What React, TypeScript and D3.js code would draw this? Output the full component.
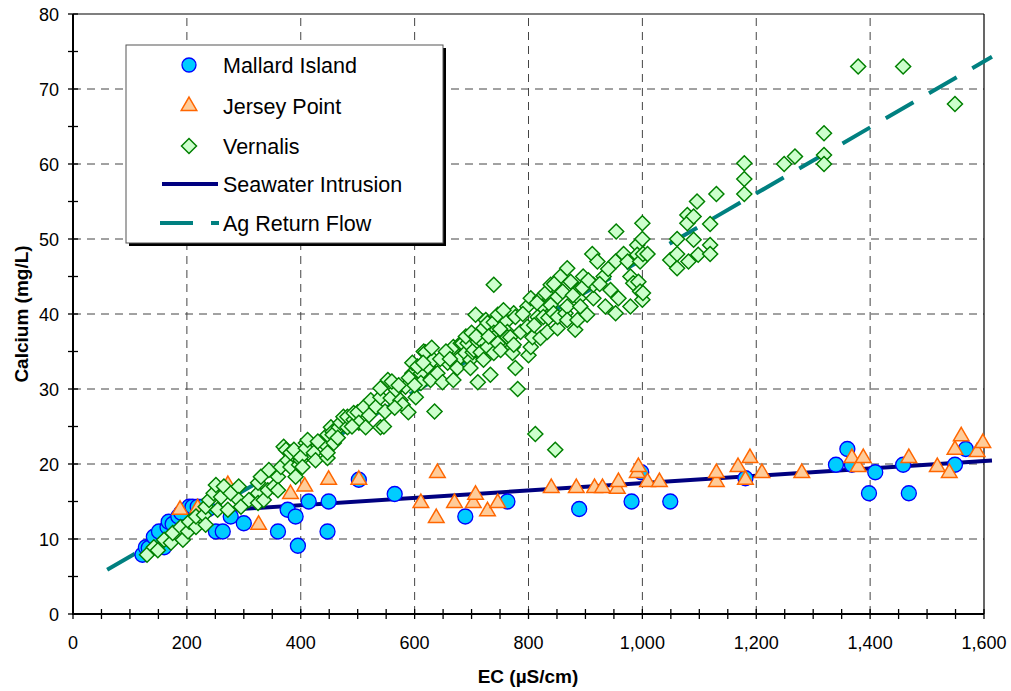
import React from "react";
import * as d3 from "d3";

const xTicks = [0, 200, 400, 600, 800, 1000, 1200, 1400, 1600];
const yTicks = [0, 10, 20, 30, 40, 50, 60, 70, 80];

const mallard: [number, number][] = [
  [122,7.9],[128,8.9],[133,8.8],[142,10.3],[151,11],[160,8.9],[166,11.6],[168,12.3],[175,12],[185,13],[190,13.5],
  [204,14.3],[210,14.3],[219,14.3],[228,14.3],[238,14],[251,11],[263,11],[277,13],[300,12.1],[360,11],[377,13.9],
  [391,13],[395,9.1],[414,15],[449,15],[447,11],[502,17.9],[565,16],[689,13],[763,15],[889,14],[981,15],[998,18.9],
  [1049,15],[1181,18.1],[1340,19.9],[1360,22],[1368,19.9],[1398,16.1],[1409,18.9],[1458,19.9],[1468,16.1],[1549,19.9],[1568,22]
];

const jersey: [number, number][] = [
  [188,13.9],[219,14.1],[272,17.2],[326,11.9],[382,16],[407,17],[449,17.9],[502,17.9],[611,14.8],[640,18.8],[638,12.8],
  [670,14.8],[703,14.8],[707,15.9],[728,13.7],[746,14.8],[840,16.8],[884,16.8],[916,16.8],[930,16.8],[956,16.7],[958,17.6],
  [991,18.8],[993,19.6],[1009,17.6],[1030,17.6],[1130,17.6],[1130,18.8],[1168,19.6],[1181,17.9],[1189,20.8],[1210,18.8],
  [1280,18.8],[1368,20.8],[1379,19.6],[1388,20.8],[1468,20.8],[1518,19.6],[1539,18.8],[1549,21.9],[1560,23.7],[1588,21.6],[1598,22.8]
];

const vernalis: [number, number][] = [
  [130,7.9],[142,8.9],[149,8.5],[160,9.9],[172,9.5],[175,10.8],[189,11.6],[193,9.9],[202,11],[204,12.3],[216,11.6],[216,13],
  [230,13.2],[233,11.9],[233,14.3],[239,15.2],[247,16.1],[251,17.2],[254,13.9],[260,15.6],[265,17],[272,13.9],[277,16.1],
  [291,17],[291,15.2],[295,14.3],[309,15.2],[325,16.1],[325,14.8],[325,17.5],[330,18.3],[335,15.2],[342,16.5],[344,19.2],
  [353,17],[360,18.3],[360,16.5],[365,19.6],[370,22.3],[374,21.9],[377,20.5],[382,19.6],[382,21.5],[388,21.9],[391,18.3],
  [397,19.9],[400,20.5],[400,20.9],[403,19.6],[409,22.8],[409,22.1],[412,23.2],[423,21.5],[426,20.5],[440,22.8],[447,20.8],
  [447,21.5],[447,23.9],[453,24.9],[456,24.3],[456,23.9],[458,22.8],[467,24.9],[470,25.5],[475,26.3],[482,24.9],[482,26.3],
  [493,25.9],[493,26.8],[500,26.9],[502,25.5],[511,27.6],[514,24.9],[523,28.5],[532,27.6],[540,24.9],[540,28.9],[540,30.1],
  [546,25],[553,31.2],[558,28.8],[567,29.9],[575,28.5],[579,27.9],[584,30.3],[589,26.9],[596,32.1],[596,33.5],[602,28.9],
  [611,32.1],[611,30.8],[616,35],[619,34.9],[623,33],[628,31.2],[633,33.9],[635,27],[640,32.1],[649,30.9],[658,33.5],
  [668,31.2],[668,35.6],[675,32.8],[681,34.3],[681,36.1],[684,36.1],[689,34.8],[693,36.1],[698,33.9],[698,32.8],[702,34.9],
  [704,35.2],[707,39.9],[711,36.3],[711,30.9],[716,36.5],[716,34.9],[721,33.9],[721,37.9],[721,38.1],[725,39.2],[728,38.8],
  [728,35.6],[733,31.9],[739,43.9],[739,38.9],[739,37.5],[739,36.8],[739,34.8],[746,39.9],[746,36.1],[751,35.2],[760,38.9],
  [763,37.6],[763,36.9],[768,36.9],[772,35.6],[772,34.8],[774,40.1],[774,35.9],[777,39.6],[777,32.8],[781,30],[786,37.6],
  [798,38.3],[798,41],[800,34.5],[804,42.1],[804,35.6],[807,36.9],[812,24],[816,39.6],[821,42.1],[821,36.8],[824,41],
  [826,39.6],[830,42.8],[833,37.6],[835,39.5],[839,43.9],[839,41.2],[844,40.1],[847,21.9],[851,42.3],[851,38.1],[851,39.6],
  [856,45],[865,40.1],[868,46.1],[868,41],[868,39.2],[874,44.3],[882,37.9],[886,39.2],[888,43.2],[888,42.1],[891,41],
  [896,45],[903,39.9],[912,48],[914,42.1],[914,43.9],[921,47],[932,45],[935,41],[944,43.2],[953,40.1],[953,47],[954,51],
  [958,42.1],[967,48],[974,47],[979,45],[979,41],[984,44.1],[991,49.2],[991,47.9],[993,44.3],[996,47],[996,43],[1000,52.1],
  [1000,50],[1000,41.9],[1001,48],[1001,42.8],[1009,48],[1049,47.2],[1061,50],[1061,46.1],[1061,48],[1079,53.2],[1079,52.1],
  [1081,47],[1090,53],[1090,49.9],[1096,55],[1098,47.9],[1119,52],[1119,49.2],[1119,48],[1130,56],[1179,60.1],[1179,58],
  [1179,56],[1249,60],[1268,61],[1319,64.1],[1319,61.2],[1319,60],[1379,73],[1458,73],[1549,68],
  [560,31],[572,30.5],[590,31.5],[605,33],[615,33.5],[630,35.5],[645,34],[655,35],[662,34],[690,37],[700,37.5],
  [708,37],[730,37],[750,38],[756,40.5],[790,40],[810,38.5],[815,41.5],[845,44],[860,43],[878,42.5],[895,43.5],
  [905,44.5],[925,44],[940,46],[430,23],[465,23.5],[490,25],[520,26.5],[548,27],[565,27.5],[600,30.5]
];

const seawaterLine: [number, number][] = [[200, 13.53], [1614, 20.46]];
const agReturnLine: [number, number][] = [[60, 5.9], [1614, 74.3]];

const legendItems = ["Mallard Island", "Jersey Point", "Vernalis", "Seawater Intrusion", "Ag Return Flow"];

const FONT = "'Liberation Sans', Arial, sans-serif";

export default function App() {
  const width = 1011, height = 691;
  const x = d3.scaleLinear().domain([0, 1600]).range([73, 984]);
  const y = d3.scaleLinear().domain([0, 80]).range([614, 14]);
  const line = d3.line<[number, number]>().x(d => x(d[0])).y(d => y(d[1]));
  const tri = d3.symbol().type(d3.symbolTriangle).size(105)();
  const xMinor = d3.range(0, 1601, 50);
  const yMinor = d3.range(0, 81, 5);
  const diamond = (cx: number, cy: number, r: number) =>
    `M${cx},${cy - r}L${cx + r},${cy}L${cx},${cy + r}L${cx - r},${cy}Z`;

  const legY = [65, 106, 146, 184, 223];
  return (
    <svg width={width} height={height} style={{ position: "absolute", left: 0, top: 0 }} fontFamily={FONT}>
      <rect x={0} y={0} width={width} height={height} fill="#fff" />
      {/* grid */}
      {yTicks.filter(v => v > 0 && v < 80).map(v => (
        <line key={"gy" + v} x1={x(0)} x2={x(1600)} y1={y(v)} y2={y(v)} stroke="#444" strokeWidth={1} strokeDasharray="8,6" />
      ))}
      {xTicks.filter(v => v > 0 && v < 1600).map(v => (
        <line key={"gx" + v} x1={x(v)} x2={x(v)} y1={y(0)} y2={y(80)} stroke="#444" strokeWidth={1} strokeDasharray="8,6" />
      ))}
      {/* border */}
      <line x1={x(0)} x2={x(1600)} y1={y(80)} y2={y(80)} stroke="#000" strokeWidth={1.2} />
      <line x1={x(1600)} x2={x(1600)} y1={y(80)} y2={y(0)} stroke="#000" strokeWidth={1.2} />
      {/* lines */}
      <path d={line(seawaterLine) || ""} stroke="#000080" strokeWidth={4} fill="none" />
      <path d={line(agReturnLine) || ""} stroke="#008080" strokeWidth={4} fill="none" strokeDasharray="32,18" />
      {/* markers */}
      {mallard.map((d, i) => (
        <circle key={"m" + i} cx={x(d[0])} cy={y(d[1])} r={7.5} fill="#00CCFF" stroke="#0000FF" strokeWidth={1.3} />
      ))}
      {jersey.map((d, i) => (
        <path key={"j" + i} d={tri} transform={`translate(${x(d[0])},${y(d[1])})`} fill="#FFCC99" stroke="#FF6600" strokeWidth={1.5} />
      ))}
      {vernalis.map((d, i) => (
        <path key={"v" + i} d={diamond(x(d[0]), y(d[1]), 7.5)} fill="#CCFFCC" stroke="#008000" strokeWidth={1.5} />
      ))}
      {/* axes */}
      <line x1={x(0)} x2={x(0)} y1={y(0) + 1} y2={y(80)} stroke="#000" strokeWidth={2} />
      <line x1={x(0) - 1} x2={x(1600)} y1={y(0)} y2={y(0)} stroke="#000" strokeWidth={2} />
      {xMinor.map(v => (
        <line key={"xt" + v} x1={x(v)} x2={x(v)} y1={y(0) - 5} y2={y(0) + 5} stroke="#000" strokeWidth={1.3} />
      ))}
      {yMinor.map(v => (
        <line key={"yt" + v} x1={x(0) - 5} x2={x(0) + 5} y1={y(v)} y2={y(v)} stroke="#000" strokeWidth={1.3} />
      ))}
      {xTicks.map(v => (
        <text key={"xl" + v} x={x(v)} y={649} textAnchor="middle" fontSize={18} fill="#000">
          {d3.format(",")(v)}
        </text>
      ))}
      {yTicks.map(v => (
        <text key={"yl" + v} x={59} y={y(v) + 6.5} textAnchor="end" fontSize={18} fill="#000">
          {v}
        </text>
      ))}
      <text x={528} y={683} textAnchor="middle" fontSize={19} fontWeight="bold" fill="#000">EC (µS/cm)</text>
      <text transform={`translate(28,${y(40)}) rotate(-90)`} textAnchor="middle" fontSize={19} fontWeight="bold" fill="#000">
        Calcium (mg/L)
      </text>
      {/* legend */}
      <rect x={129} y={48} width={317} height={198} fill="#000" />
      <rect x={126} y={45} width={317} height={198} fill="#fff" stroke="#555" strokeWidth={1} />
      <circle cx={189} cy={legY[0]} r={7} fill="#00CCFF" stroke="#0000FF" strokeWidth={1.3} />
      <path d={tri} transform={`translate(189,${legY[1]})`} fill="#FFCC99" stroke="#FF6600" strokeWidth={1.5} />
      <path d={diamond(189, legY[2], 7.5)} fill="#CCFFCC" stroke="#008000" strokeWidth={1.5} />
      <line x1={162} x2={218} y1={legY[3]} y2={legY[3]} stroke="#000080" strokeWidth={4} />
      <line x1={160} x2={219} y1={legY[4]} y2={legY[4]} stroke="#008080" strokeWidth={4} strokeDasharray="33,18" />
      {legendItems.map((t, i) => (
        <text key={"lg" + i} x={223} y={legY[i] + 8} fontSize={21.5} fill="#000">{t}</text>
      ))}
    </svg>
  );
}
